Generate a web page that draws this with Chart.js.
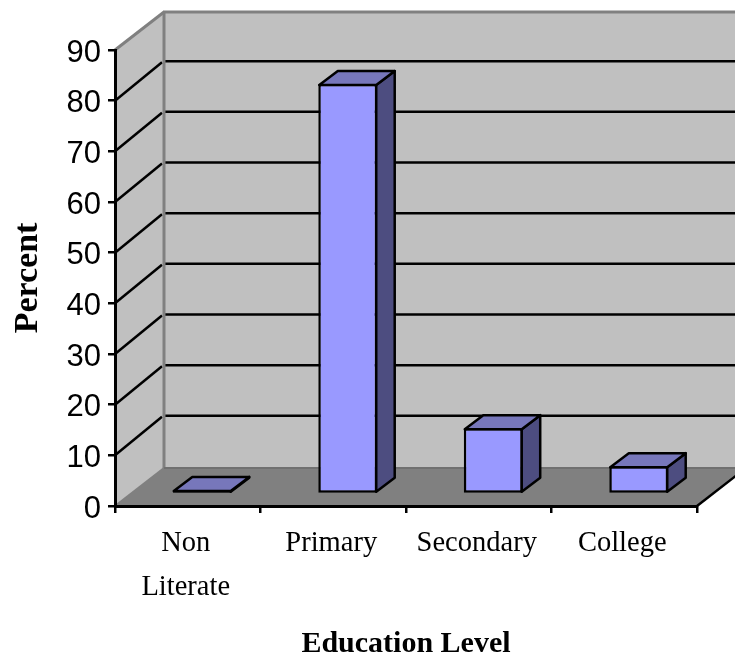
<!DOCTYPE html>
<html>
<head>
<meta charset="utf-8">
<style>html,body{margin:0;padding:0;background:#fff;overflow:hidden}canvas{display:block}</style>
<script src="https://cdn.jsdelivr.net/npm/chart.js@4"></script>
</head>
<body>
<canvas id="c" width="735" height="656"></canvas>
<script>
const categories = [["Non","Literate"],"Primary","Secondary","College"];
const percentValues = [0.8, 80.9, 13, 5.5];
const yTicks = [0,10,20,30,40,50,60,70,80,90];

const DEPTH_X = 49, DEPTH_Y = 38, GRID_DY = 39.5;
const BAR_SHIFT_X = 14.5, BAR_SHIFT_Y = 12, BAR_DX = 18.5, BAR_DY = 14, BAR_LW = 2.5;

function poly(ctx, pts, fill, stroke, lw){
  ctx.beginPath();
  pts.forEach((p,i)=> i?ctx.lineTo(p[0],p[1]):ctx.moveTo(p[0],p[1]));
  ctx.closePath();
  if(fill){ctx.fillStyle=fill;ctx.fill();}
  if(stroke){ctx.strokeStyle=stroke;ctx.lineWidth=lw;ctx.lineJoin='round';ctx.stroke();}
}
function line(ctx,a,b,c,d,color,lw){
  ctx.beginPath();ctx.moveTo(a,b);ctx.lineTo(c,d);ctx.strokeStyle=color;ctx.lineWidth=lw;ctx.stroke();
}

const walls = {
  id:'walls',
  beforeDraw(chart){
    const {ctx, chartArea:a, scales:{y}} = chart;
    const L=a.left,R=a.right,T=a.top,B=a.bottom,dx=DEPTH_X,dy=DEPTH_Y;
    ctx.save();
    poly(ctx,[[L+dx,T-dy],[R+dx,T-dy],[R+dx,B-dy],[L+dx,B-dy]],'#C0C0C0');
    poly(ctx,[[L,T],[L+dx,T-dy],[L+dx,B-dy],[L,B]],'#C0C0C0');
    poly(ctx,[[L,B],[R,B],[R+dx,B-dy],[L+dx,B-dy]],'#808080');
    yTicks.slice(1,-1).forEach(v=>{
      const p=y.getPixelForValue(v);
      line(ctx,L,p,L+dx-2,p-GRID_DY+1,'#000',2.5);
      line(ctx,L+dx,p-GRID_DY,R+dx,p-GRID_DY,'#000',2.5);
    });
    line(ctx,L,T,L+dx,T-dy,'#808080',3);
    line(ctx,L+dx-1,T-dy,R+dx,T-dy,'#808080',3);
    line(ctx,L+dx,T-dy,L+dx,B-dy,'#808080',3);
    line(ctx,L,B,L+dx,B-dy,'#808080',2);
    line(ctx,L+dx,B-dy,R+dx,B-dy,'#707070',2);
    line(ctx,R,B,R+dx,B-dy,'#000',2.5);
    ctx.restore();
  }
};

const bars3d = {
  id:'bars3d',
  beforeDatasetDraw(chart,args){
    const ctx=chart.ctx;
    ctx.save();
    ctx.translate(BAR_SHIFT_X,-BAR_SHIFT_Y);
    args.meta.data.forEach(b=>{
      const l=b.x-b.width/2+1,r=b.x+b.width/2-1,t=b.y+1,bt=b.base-1;
      poly(ctx,[[r,t],[r+BAR_DX,t-BAR_DY],[r+BAR_DX,bt-BAR_DY],[r,bt]],'#4D4D80','#000',BAR_LW);
      poly(ctx,[[l,t],[l+BAR_DX,t-BAR_DY],[r+BAR_DX,t-BAR_DY],[r,t]],'#7777BB','#000',BAR_LW);
    });
  },
  afterDatasetDraw(chart){ chart.ctx.restore(); }
};

new Chart(document.getElementById('c'),{
  type:'bar',
  data:{labels:categories,datasets:[{
    data:percentValues,
    backgroundColor:'#9999FF',
    borderColor:'#000',
    borderWidth:BAR_LW,
    borderSkipped:false,
    barPercentage:0.405,
    categoryPercentage:1,
    clip:false
  }]},
  plugins:[walls,bars3d],
  options:{
    responsive:false,
    animation:false,
    layout:{padding:{top:50,right:38,bottom:0,left:0}},
    plugins:{legend:{display:false},tooltip:{enabled:false}},
    scales:{
      x:{
        afterFit(s){s.height=150;},
        grid:{drawOnChartArea:false,drawTicks:true,tickLength:7,color:'#000',lineWidth:2.5},
        border:{display:true,color:'#000',width:3},
        ticks:{color:'#000',maxRotation:0,autoSkip:false,padding:9,labelOffset:-2,
          font:{family:'"Liberation Serif"',size:28.5,lineHeight:'44px'}},
        title:{display:true,text:'Education Level',color:'#000',
          font:{family:'"Liberation Serif"',size:30,weight:'bold',lineHeight:1},padding:{top:0,bottom:-3}}
      },
      y:{
        min:0,max:90,
        afterFit(s){s.width=115;},
        afterBuildTicks(s){s.ticks=yTicks.map(v=>({value:v}));},
        grid:{drawOnChartArea:false,drawTicks:true,tickLength:7,color:'#000',lineWidth:2.5},
        border:{display:true,color:'#000',width:3},
        ticks:{color:'#000',padding:7,labelOffset:3,font:{family:'"Liberation Sans"',size:31}},
        title:{display:true,text:'Percent',color:'#000',
          font:{family:'"Liberation Serif"',size:34,weight:'bold',lineHeight:1},padding:{top:11,bottom:0}}
      }
    }
  }
});
</script>
</body>
</html>
